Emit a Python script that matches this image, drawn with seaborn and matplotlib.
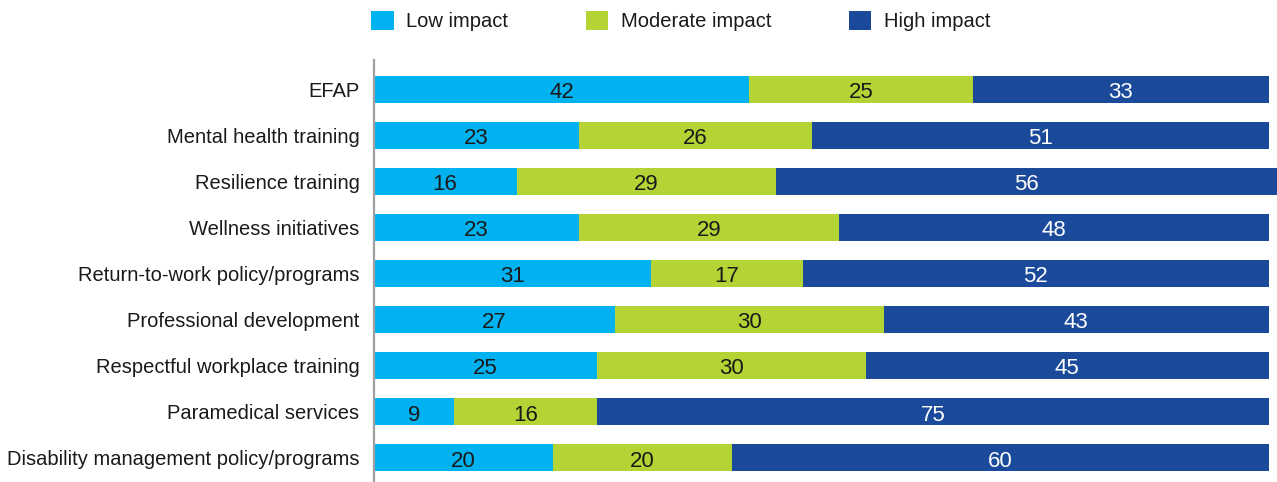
import numpy as np
import matplotlib
matplotlib.use("Agg")
import matplotlib.pyplot as plt
from matplotlib.patches import Patch
import seaborn as sns

categories = [
    "EFAP",
    "Mental health training",
    "Resilience training",
    "Wellness initiatives",
    "Return-to-work policy/programs",
    "Professional development",
    "Respectful workplace training",
    "Paramedical services",
    "Disability management policy/programs",
]
low = [42, 23, 16, 23, 31, 27, 25, 9, 20]
moderate = [25, 26, 29, 29, 17, 30, 30, 16, 20]
high = [33, 51, 56, 48, 52, 43, 45, 75, 60]
series_names = ["Low impact", "Moderate impact", "High impact"]
colors = ["#00b2ef", "#b4d334", "#1b4a9a"]

sns.set_theme(style="white")
plt.rcParams["font.family"] = ["Liberation Sans", "DejaVu Sans"]
text_color = "#1a1a1a"
fs = 14.5
fs_val = 16

low_a = np.array(low)
mod_a = np.array(moderate)
high_a = np.array(high)
cum_low = low_a
cum_mod = low_a + mod_a
cum_high = low_a + mod_a + high_a

fig = plt.figure(figsize=(12.77, 4.82), dpi=100)
ax = fig.add_axes([373.5 / 1277, 0, 903.5 / 1277, 422 / 482])

# stacked bars drawn as overlapping cumulative totals
for vals, c in zip([cum_high, cum_mod, cum_low], colors[::-1]):
    sns.barplot(x=vals, y=categories, orient="h", color=c, width=0.59,
                saturation=1, ax=ax, linewidth=0)

# value labels
for i in range(len(categories)):
    ax.text(low[i] / 2, i + 0.02, str(low[i]), ha="center", va="center_baseline",
            fontsize=fs_val, color=text_color)
    ax.text(low[i] + moderate[i] / 2, i + 0.02, str(moderate[i]), ha="center",
            va="center_baseline", fontsize=fs_val, color=text_color)
    ax.text(low[i] + moderate[i] + high[i] / 2, i + 0.02, str(high[i]), ha="center",
            va="center_baseline", fontsize=fs_val, color="white")

ax.set_xlim(0, 903.5 / 8.95)
ax.set_ylim(8.53, -0.64)
ax.set_xlabel("")
ax.set_ylabel("")
ax.set_xticks([])
for s in ["top", "right", "bottom"]:
    ax.spines[s].set_visible(False)
ax.spines["left"].set_color("#a0a0a0")
ax.spines["left"].set_linewidth(1.6)
ax.tick_params(axis="y", length=0, pad=10, labelsize=fs, labelcolor=text_color)

handles = [Patch(facecolor=c, edgecolor="none") for c in colors]
fig.legend(handles, series_names, loc="center left",
           bbox_to_anchor=(371 / 1277, 1 - 21 / 482), ncol=3, frameon=False,
           fontsize=fs, handlelength=1.12, handleheight=1.12,
           handletextpad=0.62, columnspacing=3.85, borderpad=0, borderaxespad=0,
           labelcolor=text_color)

fig.savefig("out.png", dpi=100)
